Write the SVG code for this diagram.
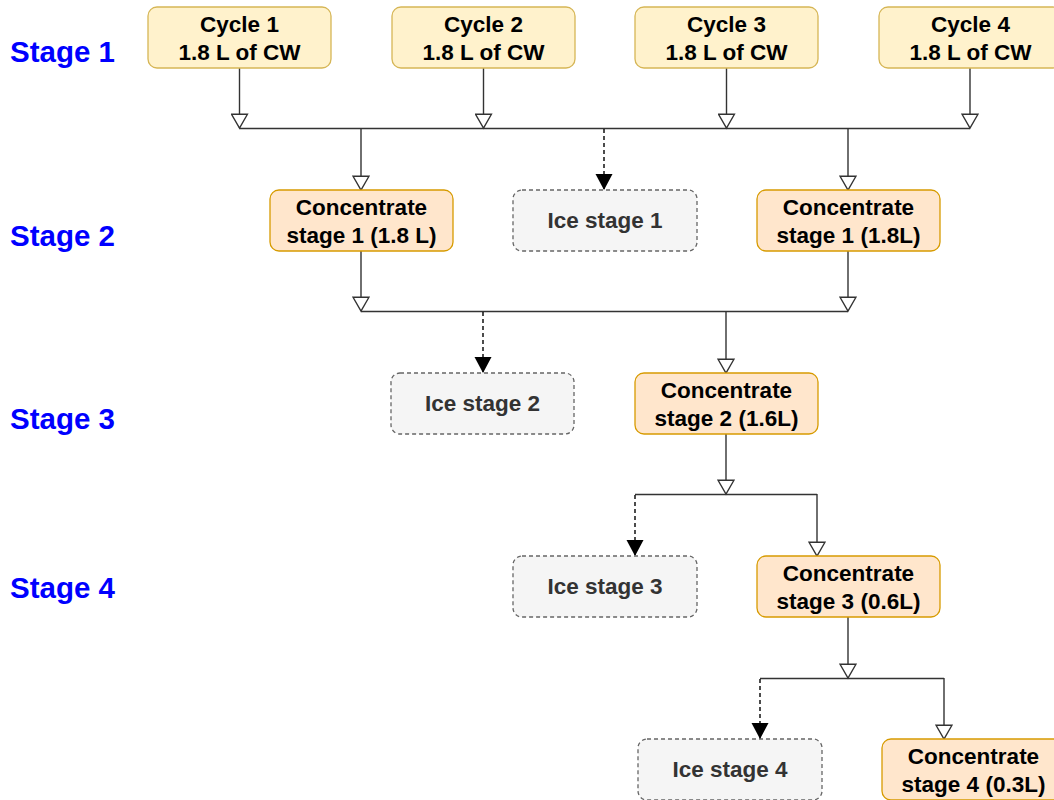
<svg xmlns="http://www.w3.org/2000/svg" width="1054" height="800" viewBox="0 0 1054 800">
<defs>
<style>
.stage{font-family:"Liberation Sans",Arial,sans-serif;font-weight:bold;font-size:29.5px;fill:#0000FF}
.t{font-family:"Liberation Sans",Arial,sans-serif;font-weight:bold;font-size:22.5px;fill:#000;text-anchor:middle}
.ti{font-family:"Liberation Sans",Arial,sans-serif;font-weight:bold;font-size:22.5px;fill:#333;text-anchor:middle}
.cyc{fill:#fff2cc;stroke:#d6b656;stroke-width:1.3}
.con{fill:#ffe6cc;stroke:#d79b00;stroke-width:1.3}
.ice{fill:#f5f5f5;stroke:#666;stroke-width:1.3;stroke-dasharray:4 3}
.ln{fill:none;stroke:#333;stroke-width:1.4}
.dl{fill:none;stroke:#000;stroke-width:1.4;stroke-dasharray:4 3}
.ha{marker-end:url(#hollow)}
.fa{marker-end:url(#filled)}
</style>
<marker id="hollow" markerUnits="userSpaceOnUse" markerWidth="17" markerHeight="18" viewBox="-1 -1 16 17" refX="13" refY="7.5" orient="auto">
<path d="M0,0 L13,7.5 L0,15 Z" fill="#fff" stroke="#333" stroke-width="1.3"/>
</marker>
<marker id="filled" markerUnits="userSpaceOnUse" markerWidth="17" markerHeight="18" viewBox="0 0 16 16" refX="15" refY="8" orient="auto">
<path d="M0,0 L15,8 L0,16 Z" fill="#000"/>
</marker>
</defs>
<rect width="1054" height="800" fill="#fff"/>
<g id="stage-labels">
<text class="stage" x="10" y="62">Stage 1</text>
<text class="stage" x="10" y="246">Stage 2</text>
<text class="stage" x="10" y="429">Stage 3</text>
<text class="stage" x="10" y="598">Stage 4</text>
</g>
<g id="connectors">
<line class="ln ha" x1="239.5" y1="68" x2="239.5" y2="128"/>
<line class="ln ha" x1="483.5" y1="68" x2="483.5" y2="128"/>
<line class="ln ha" x1="726.5" y1="68" x2="726.5" y2="128"/>
<line class="ln ha" x1="970" y1="68" x2="970" y2="128"/>
<line class="ln" x1="239.5" y1="128.5" x2="970" y2="128.5"/>
<line class="ln ha" x1="361" y1="128" x2="361" y2="190"/>
<line class="dl fa" x1="604" y1="129" x2="604" y2="190"/>
<line class="ln ha" x1="848" y1="128" x2="848" y2="190"/>
<line class="ln ha" x1="361" y1="251" x2="361" y2="311"/>
<line class="ln ha" x1="848" y1="251" x2="848" y2="311"/>
<line class="ln" x1="361" y1="311.5" x2="848" y2="311.5"/>
<line class="dl fa" x1="483" y1="312" x2="483" y2="373"/>
<line class="ln ha" x1="726" y1="311" x2="726" y2="373"/>
<line class="ln ha" x1="726" y1="434" x2="726" y2="494"/>
<line class="ln" x1="635" y1="494.5" x2="817" y2="494.5"/>
<line class="dl fa" x1="635" y1="495" x2="635" y2="556"/>
<line class="ln ha" x1="817" y1="494" x2="817" y2="556"/>
<line class="ln ha" x1="848" y1="617" x2="848" y2="678"/>
<line class="ln" x1="760" y1="678.5" x2="944" y2="678.5"/>
<line class="dl fa" x1="760" y1="679" x2="760" y2="739"/>
<line class="ln ha" x1="944" y1="678" x2="944" y2="739"/>
</g>
<g id="cycle1"><rect class="cyc" x="148" y="7" width="183" height="61" rx="9"/><text class="t" x="239.5" y="32">Cycle 1</text><text class="t" x="239.5" y="60">1.8 L of CW</text></g>
<g id="cycle2"><rect class="cyc" x="392" y="7" width="183" height="61" rx="9"/><text class="t" x="483.5" y="32">Cycle 2</text><text class="t" x="483.5" y="60">1.8 L of CW</text></g>
<g id="cycle3"><rect class="cyc" x="635" y="7" width="183" height="61" rx="9"/><text class="t" x="726.5" y="32">Cycle 3</text><text class="t" x="726.5" y="60">1.8 L of CW</text></g>
<g id="cycle4"><rect class="cyc" x="879" y="7" width="183" height="61" rx="9"/><text class="t" x="970.5" y="32">Cycle 4</text><text class="t" x="970.5" y="60">1.8 L of CW</text></g>
<g id="conc1a"><rect class="con" x="270" y="190" width="183" height="61" rx="9"/><text class="t" x="361.5" y="215">Concentrate</text><text class="t" x="361.5" y="243">stage 1 (1.8 L)</text></g>
<g id="ice1"><rect class="ice" x="513" y="190" width="184" height="61" rx="9"/><text class="ti" x="605" y="228">Ice stage 1</text></g>
<g id="conc1b"><rect class="con" x="757" y="190" width="183" height="61" rx="9"/><text class="t" x="848.5" y="215">Concentrate</text><text class="t" x="848.5" y="243">stage 1 (1.8L)</text></g>
<g id="ice2"><rect class="ice" x="391" y="373" width="183" height="61" rx="9"/><text class="ti" x="482.5" y="411">Ice stage 2</text></g>
<g id="conc2"><rect class="con" x="635" y="373" width="183" height="61" rx="9"/><text class="t" x="726.5" y="398">Concentrate</text><text class="t" x="726.5" y="426">stage 2 (1.6L)</text></g>
<g id="ice3"><rect class="ice" x="513" y="556" width="184" height="61" rx="9"/><text class="ti" x="605" y="594">Ice stage 3</text></g>
<g id="conc3"><rect class="con" x="757" y="556" width="183" height="61" rx="9"/><text class="t" x="848.5" y="581">Concentrate</text><text class="t" x="848.5" y="609">stage 3 (0.6L)</text></g>
<g id="ice4"><rect class="ice" x="638" y="739" width="184" height="61" rx="9"/><text class="ti" x="730" y="777">Ice stage 4</text></g>
<g id="conc4"><rect class="con" x="882" y="739" width="183" height="61" rx="9"/><text class="t" x="973.5" y="764">Concentrate</text><text class="t" x="973.5" y="792">stage 4 (0.3L)</text></g>
</svg>
